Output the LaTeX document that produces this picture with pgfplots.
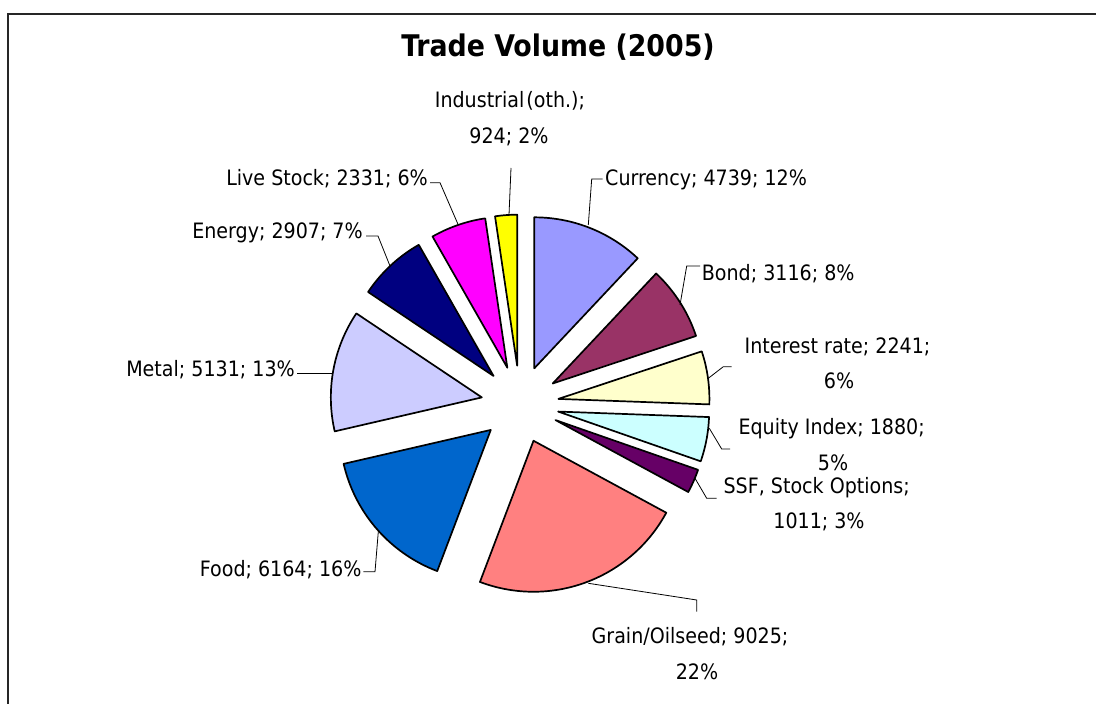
\documentclass[border=0pt]{standalone}
\usepackage{pgfplots}
\pgfplotsset{compat=1.18}
\usepackage{fontspec}
\setmainfont{DejaVu Sans Condensed}
\definecolor{cCur}{HTML}{9999FF}
\definecolor{cBond}{HTML}{993366}
\definecolor{cInt}{HTML}{FFFFCC}
\definecolor{cEq}{HTML}{CCFFFF}
\definecolor{cSSF}{HTML}{660066}
\definecolor{cGrain}{HTML}{FF8080}
\definecolor{cFood}{HTML}{0066CC}
\definecolor{cMetal}{HTML}{CCCCFF}
\definecolor{cEnergy}{HTML}{000080}
\definecolor{cLive}{HTML}{FF00FF}
\definecolor{cInd}{HTML}{FFFF00}
\newcommand\lbl{\fontsize{21.2}{24}\selectfont}
% pie geometry (axis units = pt)
\def\cx{520}\def\cy{299.6}\def\rad{151}\def\expl{38.8}
\newcommand\slice[2]{%
  \pgfmathsetmacro\aS{90-(\cum/\total)*360}%
  \pgfmathsetmacro\newcum{\cum+#1/100}%
  \pgfmathsetmacro\aE{90-(\newcum/\total)*360}%
  \global\let\cum\newcum
  \pgfmathsetmacro\aM{(\aS+\aE)/2}%
  \pgfmathsetmacro\px{\cx+\expl*cos(\aM)}%
  \pgfmathsetmacro\py{\cy+\expl*sin(\aM)}%
  \edef\temp{\noexpand\addplot[fill=#2, draw=black, line width=1.7pt, line join=round,
     domain=\aE:\aS, samples=80, variable=\noexpand\t]
     ({\px+\rad*cos(\noexpand\t)},{\py+\rad*sin(\noexpand\t)}) -- (axis cs:\px,\py) -- cycle;}%
  \temp
}
\begin{document}
\begin{tikzpicture}
% total of the values (computed in hundreds to stay within TeX limits)
\pgfmathsetmacro\total{4739/100+3116/100+2241/100+1880/100+1011/100+9025/100+6164/100+5131/100+2907/100+2331/100+924/100}
\gdef\cum{0}
\begin{axis}[width=1096pt, height=704pt, scale only axis,
  xmin=0, xmax=1096, ymin=0, ymax=704, hide axis, clip=false]
\slice{4739}{cCur}
\slice{3116}{cBond}
\slice{2241}{cInt}
\slice{1880}{cEq}
\slice{1011}{cSSF}
\slice{9025}{cGrain}
\slice{6164}{cFood}
\slice{5131}{cMetal}
\slice{2907}{cEnergy}
\slice{2331}{cLive}
\slice{924}{cInd}
% title
\node[anchor=base, font=\fontsize{29.8}{34}\selectfont\bfseries] at (axis cs:558,647.3) {Trade Volume (2005)};
% labels
\node[anchor=base, font=\lbl] at (axis cs:510,596.7) {Industrial\hspace{0.1em}(oth.);};
\node[anchor=base, font=\lbl] at (axis cs:509,560.7) {924; 2\%};
\draw[line width=0.8pt] (axis cs:511,536) -- (axis cs:509,489);
\node[anchor=base east, font=\lbl, inner xsep=0pt] at (axis cs:428,518) {Live Stock; 2331; 6\%};
\draw[line width=0.8pt] (axis cs:430,521.3) -- (axis cs:440,521.3) -- (axis cs:458.3,479);
\node[anchor=base east, font=\lbl, inner xsep=0pt] at (axis cs:363,465.7) {Energy; 2907; 7\%};
\draw[line width=0.8pt] (axis cs:366,468) -- (axis cs:378,468) -- (axis cs:390,438);
\node[anchor=base west, font=\lbl, inner xsep=0pt] at (axis cs:605,518) {Currency; 4739; 12\%};
\draw[line width=0.8pt] (axis cs:602.7,525) -- (axis cs:591.7,525) -- (axis cs:588.3,479);
\node[anchor=base west, font=\lbl, inner xsep=0pt] at (axis cs:701.7,423.5) {Bond; 3116; 8\%};
\draw[line width=0.8pt] (axis cs:700,438) -- (axis cs:686.7,438) -- (axis cs:680,399);
\node[anchor=base, font=\lbl] at (axis cs:837.5,350.7) {Interest rate; 2241;};
\node[anchor=base, font=\lbl] at (axis cs:839,315.7) {6\%};
\draw[line width=0.8pt] (axis cs:731.7,337.3) -- (axis cs:723.3,337.3) -- (axis cs:708.3,325.7);
\node[anchor=base, font=\lbl] at (axis cs:831.7,269) {Equity Index; 1880;};
\node[anchor=base, font=\lbl] at (axis cs:833,233.3) {5\%};
\draw[line width=0.8pt] (axis cs:730,255) -- (axis cs:721.7,255) -- (axis cs:709.3,275.7);
\node[anchor=base, font=\lbl] at (axis cs:816.7,210.7) {SSF, Stock Options;};
\node[anchor=base, font=\lbl] at (axis cs:819,175.7) {1011; 3\%};
\draw[line width=0.8pt] (axis cs:716.7,205.7) -- (axis cs:706.7,205.7) -- (axis cs:695,225.7);
\node[anchor=base, font=\lbl] at (axis cs:690,60.7) {Grain/Oilseed; 9025;};
\node[anchor=base, font=\lbl] at (axis cs:697,24.7) {22\%};
\draw[line width=0.8pt] (axis cs:696.7,92.3) -- (axis cs:696.7,104) -- (axis cs:588.3,120.7);
\node[anchor=base east, font=\lbl, inner xsep=0pt] at (axis cs:361.7,127.3) {Food; 6164; 16\%};
\draw[line width=0.8pt] (axis cs:363.3,132.3) -- (axis cs:375,132.3) -- (axis cs:378.3,172.3);
\node[anchor=base east, font=\lbl, inner xsep=0pt] at (axis cs:295,327.3) {Metal; 5131; 13\%};
\draw[line width=0.8pt] (axis cs:297.3,330.7) -- (axis cs:331.7,330.7);
\end{axis}
\draw[line width=1.8pt, black!85] (8.3pt,-20pt) -- (8.3pt,690pt) -- (1120pt,690pt);
\pgfresetboundingbox
\path[use as bounding box] (0,0) rectangle (1096pt,704pt);
\end{tikzpicture}
\end{document}
